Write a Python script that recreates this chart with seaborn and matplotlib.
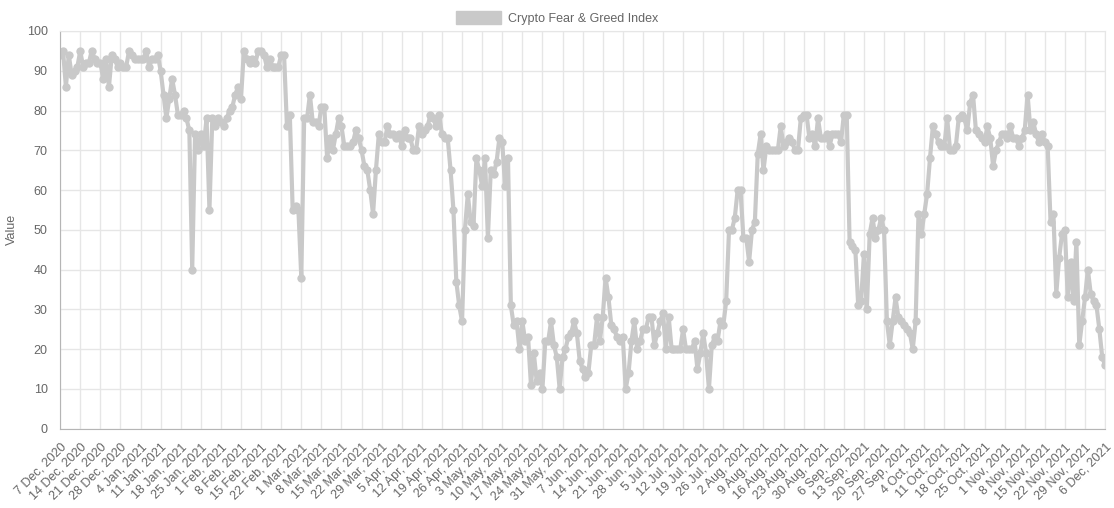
## crypto fear & greed index, daily values Dec 2020 - Dec 2021
import matplotlib
matplotlib.use("Agg")
import matplotlib.pyplot as plt
from matplotlib.patches import Patch
import seaborn as sns
import pandas as pd

START_DATE = "2020-12-07"
END_DATE = "2021-12-06"
SERIES_NAME = "Crypto Fear & Greed Index"

## one value per day (month by month)
dec_2020 = [94, 95, 86, 94, 89, 90, 91, 95, 91, 92, 92, 95, 93, 92, 92, 88, 93, 86, 94, 93,
            91, 92, 91, 91, 95]
jan_2021 = [94, 93, 93, 93, 93, 95, 91, 93, 93, 94, 90, 84, 78, 83, 88, 84, 79, 79, 80, 78,
            75, 40, 74, 70, 74, 71, 78, 55, 78, 76, 78]
feb_2021 = [77, 76, 78, 80, 81, 84, 86, 83, 95, 93, 92, 93, 92, 95, 95, 94, 91, 93, 91, 91,
            91, 94, 94, 76, 79, 55, 56, 55]
mar_2021 = [38, 78, 78, 84, 77, 77, 76, 81, 81, 68, 73, 70, 74, 78, 76, 71, 71, 71, 72, 75,
            73, 70, 66, 65, 60, 54, 65, 74, 72, 72, 76]
apr_2021 = [74, 74, 73, 74, 71, 75, 73, 73, 70, 70, 76, 74, 75, 76, 79, 78, 76, 79, 74, 73,
            73, 65, 55, 37, 31, 27, 50, 59, 52, 51]
may_2021 = [68, 65, 61, 68, 48, 65, 64, 67, 73, 72, 61, 68, 31, 26, 27, 20, 27, 22, 23, 11,
            19, 12, 14, 10, 22, 22, 27, 21, 18, 10, 18]
jun_2021 = [20, 23, 24, 27, 24, 17, 15, 13, 14, 21, 21, 28, 22, 28, 38, 33, 26, 25, 23, 22,
            23, 10, 14, 22, 27, 20, 22, 25, 25, 28]
jul_2021 = [28, 21, 24, 27, 29, 20, 28, 20, 20, 20, 20, 25, 20, 20, 20, 22, 15, 19, 24, 19,
            10, 21, 23, 22, 27, 26, 32, 50, 50, 53, 60]
aug_2021 = [60, 48, 48, 42, 50, 52, 69, 74, 65, 71, 70, 70, 70, 70, 76, 71, 72, 73, 72, 70,
            70, 78, 79, 79, 73, 74, 71, 78, 73, 73, 74]
sep_2021 = [71, 74, 74, 74, 72, 79, 79, 47, 46, 45, 31, 32, 44, 30, 49, 53, 48, 50, 53, 50,
            27, 21, 27, 33, 28, 27, 26, 25, 24, 20]
oct_2021 = [27, 54, 49, 54, 59, 68, 76, 74, 72, 71, 71, 78, 70, 70, 71, 78, 79, 78, 75, 82,
            84, 75, 74, 73, 72, 76, 73, 66, 70, 72, 74]
nov_2021 = [74, 73, 76, 73, 73, 71, 73, 75, 84, 75, 77, 74, 72, 74, 72, 71, 52, 54, 34, 43,
            49, 50, 33, 42, 32, 47, 21, 27, 33, 40]
dec_2021 = [34, 32, 31, 25, 18, 16]

y_ticks = list(range(0, 101, 10))

LINE_GREY = "#c9c9c9"
TEXT_GREY = "#666666"
GRID_GREY = "#e6e6e6"


## put the months together in a dataframe
def build_frame():
    values = (dec_2020 + jan_2021 + feb_2021 + mar_2021 + apr_2021 + may_2021 + jun_2021
              + jul_2021 + aug_2021 + sep_2021 + oct_2021 + nov_2021 + dec_2021)
    dates = pd.date_range(START_DATE, periods=len(values), freq="D")
    return pd.DataFrame({"Date": dates, "Value": values})


def main():
    my_frame = build_frame()

    sns.set_style("white")
    plt.rcParams["font.family"] = ["Liberation Sans", "DejaVu Sans"]

    my_figure = plt.figure(figsize=(11.14, 5.08), dpi=100)
    my_axes = my_figure.add_axes([0.054, 0.156, 0.938, 0.783])

    sns.lineplot(data=my_frame, x="Date", y="Value", ax=my_axes, color=LINE_GREY,
                 linewidth=3, marker="o", markersize=6, markeredgewidth=0,
                 markerfacecolor=LINE_GREY, legend=False)

    #weekly ticks, every one labelled
    week_ticks = pd.date_range(START_DATE, END_DATE, freq="7D")
    week_labels = [f"{d.day} {d.strftime('%b')}, {d.year}" for d in week_ticks]
    my_axes.set_xticks(week_ticks)
    my_axes.set_xticklabels(week_labels, rotation=45, ha="right", rotation_mode="anchor")
    my_axes.set_xlim(pd.Timestamp(START_DATE), pd.Timestamp(END_DATE))

    my_axes.set_yticks(y_ticks)
    my_axes.set_ylim(0, 100)

    my_axes.grid(True, color=GRID_GREY, linewidth=1)
    my_axes.set_axisbelow(True)
    my_axes.tick_params(axis="both", colors=GRID_GREY, labelcolor=TEXT_GREY,
                        labelsize=9, length=7, width=1, pad=2)

    for side in ["top", "right"]:
        my_axes.spines[side].set_color(GRID_GREY)
    for side in ["left", "bottom"]:
        my_axes.spines[side].set_color("#b5b5b5")

    my_axes.set_xlabel("")
    my_axes.set_ylabel("Value", color=TEXT_GREY, fontsize=9, labelpad=6)

    #legend box on top, like the chart.js one
    my_handle = Patch(facecolor=LINE_GREY, edgecolor=LINE_GREY, label=SERIES_NAME)
    my_figure.legend(handles=[my_handle], loc="upper center", bbox_to_anchor=(0.5, 1.0),
                     frameon=False, fontsize=9, labelcolor=TEXT_GREY,
                     handlelength=3.6, handleheight=1.2, handletextpad=0.5)

    my_figure.savefig("out.png", dpi=100, facecolor="white")
    return


if __name__ == '__main__':
    main()
